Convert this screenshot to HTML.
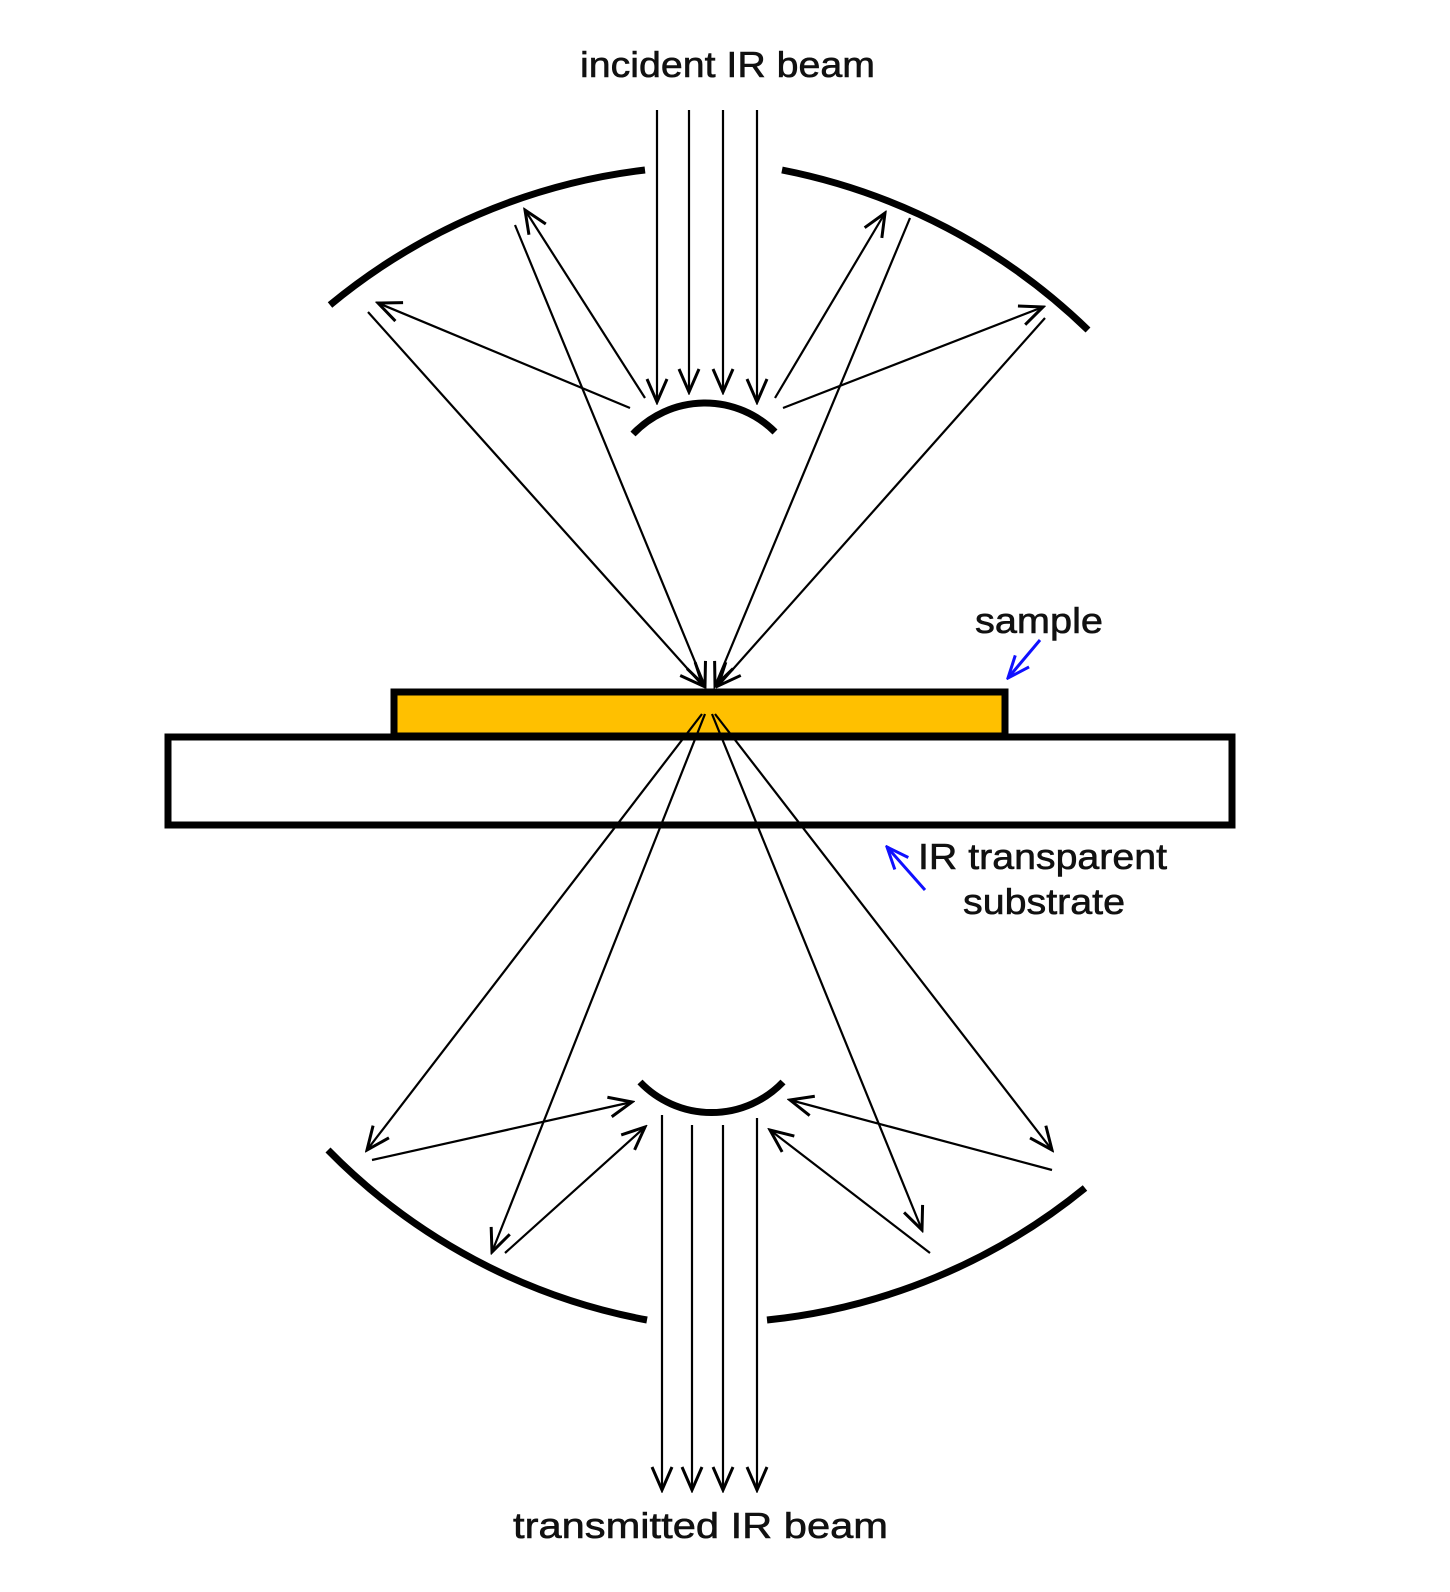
<!DOCTYPE html>
<html><head><meta charset="utf-8"><style>
html,body{margin:0;padding:0;background:#fff;}
svg{display:block;}
text{font-family:"Liberation Sans",Arial,sans-serif;fill:#111;stroke:#111;stroke-width:0.6;}
</style></head><body>
<svg width="1450" height="1592" viewBox="0 0 1450 1592" xmlns="http://www.w3.org/2000/svg">
<defs>
<marker id="ah" markerUnits="userSpaceOnUse" markerWidth="28" markerHeight="24" refX="25" refY="12" orient="auto">
<path d="M2,2 L25,12 L2,22" fill="none" stroke="#000" stroke-width="3"/>
</marker>
<marker id="bh" markerUnits="userSpaceOnUse" markerWidth="26" markerHeight="22" refX="24" refY="11" orient="auto">
<path d="M2,2 L24,11 L2,20" fill="none" stroke="#1010ff" stroke-width="3"/>
</marker>
</defs>
<g stroke="#000" fill="none">
<path d="M330,305 A607,607 0 0 1 645,170" stroke-width="7"/>
<path d="M782,170 A607,607 0 0 1 1088,330" stroke-width="7"/>
<path d="M633,434 A99,99 0 0 1 775,432" stroke-width="7"/>
<g stroke-width="2.2" marker-end="url(#ah)">
<line x1="657" y1="110" x2="657" y2="402"/>
<line x1="689" y1="110" x2="689" y2="392"/>
<line x1="723" y1="110" x2="723" y2="392"/>
<line x1="757" y1="110" x2="757" y2="402"/>
</g>
<g stroke-width="2.2" marker-end="url(#ah)">
<line x1="630" y1="408" x2="378" y2="303"/>
<line x1="645" y1="398" x2="525" y2="210"/>
<line x1="775" y1="398" x2="885" y2="213"/>
<line x1="783" y1="408" x2="1043" y2="307"/>
<line x1="368" y1="312" x2="703" y2="686"/>
<line x1="515" y1="225" x2="705" y2="686"/>
<line x1="910" y1="218" x2="715" y2="686"/>
<line x1="1045" y1="318" x2="718" y2="686"/>
</g>
<rect x="168" y="737" width="1064" height="88" fill="#fff" stroke-width="7"/>
<rect x="394" y="692" width="611" height="44" fill="#FFC000" stroke-width="7"/>
<g stroke-width="2.2" marker-end="url(#ah)">
<line x1="702" y1="714" x2="367" y2="1150"/>
<line x1="705" y1="714" x2="492" y2="1252"/>
<line x1="712" y1="714" x2="922" y2="1230"/>
<line x1="715" y1="714" x2="1052" y2="1150"/>
<line x1="372" y1="1160" x2="632" y2="1102"/>
<line x1="505" y1="1253" x2="645" y2="1127"/>
<line x1="930" y1="1253" x2="770" y2="1130"/>
<line x1="1052" y1="1170" x2="790" y2="1100"/>
</g>
<path d="M640,1082 A99,99 0 0 0 783,1082" stroke-width="7"/>
<path d="M328,1150 A600,600 0 0 0 647,1320" stroke-width="7"/>
<path d="M767,1320 A600,600 0 0 0 1085,1188" stroke-width="7"/>
<g stroke-width="2.2" marker-end="url(#ah)">
<line x1="662" y1="1115" x2="662" y2="1490"/>
<line x1="692" y1="1125" x2="692" y2="1490"/>
<line x1="723" y1="1125" x2="723" y2="1490"/>
<line x1="757" y1="1118" x2="757" y2="1490"/>
</g>
<line x1="1040" y1="640" x2="1008" y2="678" stroke="#1010ff" stroke-width="3" marker-end="url(#bh)"/>
<line x1="925" y1="890" x2="887" y2="847" stroke="#1010ff" stroke-width="3" marker-end="url(#bh)"/>
</g>
<text x="580" y="77" font-size="36" textLength="295" lengthAdjust="spacingAndGlyphs">incident IR beam</text>
<text x="513" y="1538" font-size="36" textLength="375" lengthAdjust="spacingAndGlyphs">transmitted IR beam</text>
<text x="975" y="633" font-size="36" textLength="128" lengthAdjust="spacingAndGlyphs">sample</text>
<text x="918" y="869" font-size="36" textLength="249" lengthAdjust="spacingAndGlyphs">IR transparent</text>
<text x="963" y="914" font-size="36" textLength="162" lengthAdjust="spacingAndGlyphs">substrate</text>
</svg>
</body></html>
